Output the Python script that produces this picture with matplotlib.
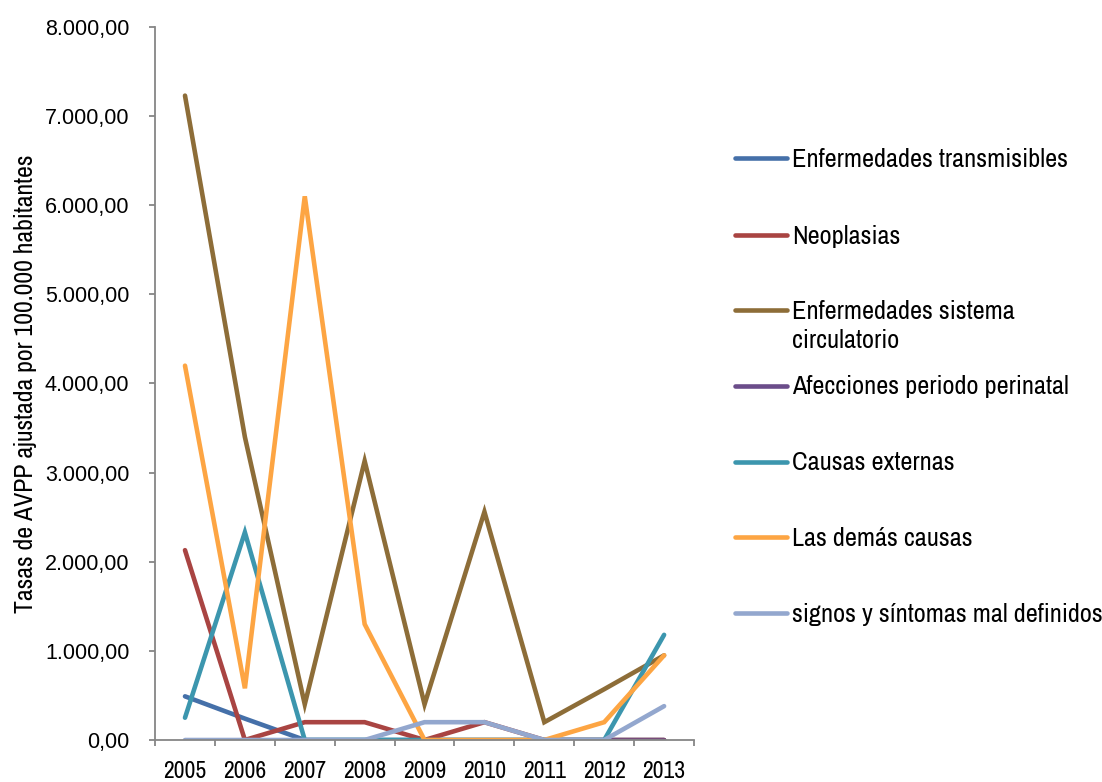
import matplotlib
matplotlib.use('Agg')
import matplotlib.pyplot as plt
from matplotlib.lines import Line2D
from matplotlib.ticker import FuncFormatter, FixedLocator

years = ['2005', '2006', '2007', '2008', '2009', '2010', '2011', '2012', '2013']

transmisibles = [490, 240, 0, 0, 0, 0, 0, 0, 0]
neoplasias = [2130, 0, 200, 200, 0, 200, 0, 0, 0]
circulatorio = [7230, 3400, 400, 3130, 400, 2560, 200, 570, 950]
perinatal = [0, 0, 0, 0, 0, 0, 0, 0, 0]
externas = [250, 2330, 0, 0, 0, 0, 0, 0, 1180]
demas = [4200, 580, 6100, 1300, 0, 0, 0, 200, 950]
mal_definidos = [0, 0, 0, 0, 200, 200, 0, 0, 380]

labels = ['Enfermedades transmisibles', 'Neoplasias',
          'Enfermedades sistema\ncirculatorio', 'Afecciones periodo perinatal',
          'Causas externas', 'Las demás causas', 'signos y síntomas mal definidos']
colors = ['#4570A9', '#A94442', '#8D6D38', '#6B4D8A', '#3C96AE', '#FDA543', '#93A7CE']
series = [transmisibles, neoplasias, circulatorio, perinatal, externas, demas, mal_definidos]

narrow = ['Archivo Narrow', 'DejaVu Sans']
axis_grey = '#868686'

fig = plt.figure(figsize=[11.02, 7.82], dpi=100)
ax = fig.add_axes([0.1407, 0.0537, 0.4891, 0.9118])

x = list(range(len(years)))
for vals, c in zip(series, colors):
    ax.plot(x, vals, color=c, lw=3.3, solid_capstyle='round', solid_joinstyle='miter')

ax.set_xlim(-0.5, 8.5)
ax.set_ylim(0, 8000)
ax.set_yticks(range(0, 8001, 1000))
ax.yaxis.set_major_formatter(FuncFormatter(
    lambda v, p: '{:,.2f}'.format(v).replace(',', 'X').replace('.', ',').replace('X', '.')))
for t in ax.get_yticklabels():
    t.set_family(['Liberation Sans', 'DejaVu Sans'])

# ticks between categories, labels at the centres
ax.xaxis.set_major_locator(FixedLocator([i - 0.5 for i in range(len(years) + 1)]))
ax.xaxis.set_major_formatter(FuncFormatter(lambda v, p: ''))
ax.xaxis.set_minor_locator(FixedLocator(x))
ax.set_xticklabels(years, minor=True)
ax.tick_params(axis='x', which='minor', length=0, pad=15, labelsize=17)
for t in ax.get_xticklabels(minor=True):
    t.set_family(narrow)
ax.tick_params(axis='x', which='major', length=4.5, color=axis_grey, width=1.3)
ax.tick_params(axis='y', length=4.5, color=axis_grey, width=1.3, labelsize=15.5, pad=14)

for s in ['top', 'right']:
    ax.spines[s].set_visible(False)
for s in ['left', 'bottom']:
    ax.spines[s].set_color(axis_grey)
    ax.spines[s].set_linewidth(1.3)

ax.set_ylabel('Tasas de AVPP ajustada por 100.000 habitantes', family=narrow,
              fontsize=18.6, labelpad=6)

# legend drawn by hand so every entry keeps the same spacing;
# wrapped labels continue below the line marker
leg_y = [158, 235, 310, 386, 462, 537, 613]
for yy, lab, c in zip(leg_y, labels, colors):
    fy = 1 - yy / 782.0
    fig.add_artist(Line2D([735 / 1102.0, 787 / 1102.0], [fy, fy], color=c, lw=3.3,
                          solid_capstyle='round', transform=fig.transFigure))
    for k, part in enumerate(lab.split('\n')):
        fig.text(792 / 1102.0, fy - (8.5 + 29 * k) / 782.0, part, family=narrow,
                 fontsize=19, va='baseline', ha='left')

plt.savefig('out.png', dpi=100)
